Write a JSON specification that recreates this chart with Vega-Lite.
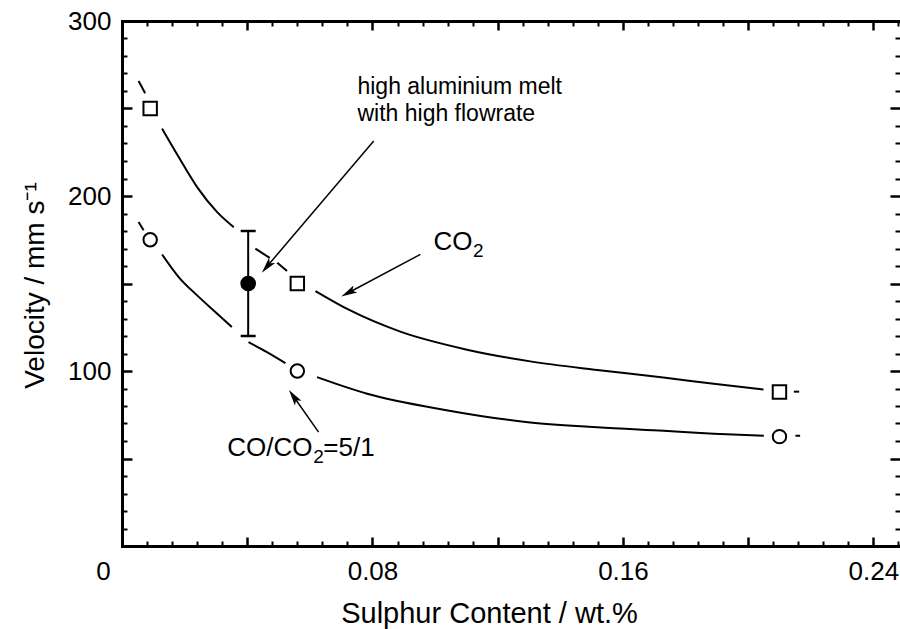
{
"$schema":"https://vega.github.io/schema/vega-lite/v6.json",
"width":778,"height":525,
"autosize":{"type":"none"},
"padding":{"left":122,"top":21,"right":0,"bottom":83},
"background":"white",
"config":{"view":{"stroke":null},"axis":{"grid":false,"domainColor":"black","tickColor":"black","labelColor":"black","titleColor":"black","labelFont":"Liberation Sans","titleFont":"Liberation Sans","titleFontWeight":"normal","labelFlush":false,"labelOverlap":false}},
"datasets":{
"ax":[{"x":0,"y":0}],
"curves":[
{"x":0.0053,"y":265.7,"seg":"U1"},{"x":0.0074,"y":258.7,"seg":"U1"},
{"x":0.0128,"y":238.5,"seg":"U2"},{"x":0.0181,"y":222.3,"seg":"U2"},{"x":0.024,"y":205.1,"seg":"U2"},{"x":0.0304,"y":190.8,"seg":"U2"},{"x":0.0357,"y":182.2,"seg":"U2"},
{"x":0.0426,"y":169.9,"seg":"U3a"},{"x":0.0472,"y":164.6,"seg":"U3a"},
{"x":0.0496,"y":161.8,"seg":"U3b"},{"x":0.0527,"y":157.1,"seg":"U3b"},
{"x":0.0618,"y":145.7,"seg":"U4"},{"x":0.0729,"y":134.6,"seg":"U4"},{"x":0.0889,"y":122.5,"seg":"U4"},{"x":0.1102,"y":112.2,"seg":"U4"},{"x":0.1304,"y":105.5,"seg":"U4"},{"x":0.1518,"y":100.6,"seg":"U4"},{"x":0.1729,"y":96.3,"seg":"U4"},{"x":0.189,"y":92.7,"seg":"U4"},{"x":0.2049,"y":89.4,"seg":"U4"},
{"x":0.2146,"y":88.2,"seg":"U5"},{"x":0.2163,"y":88.2,"seg":"U5"},
{"x":0.0053,"y":185.1,"seg":"L1"},{"x":0.0069,"y":180.4,"seg":"L1"},
{"x":0.0128,"y":166.6,"seg":"L2"},{"x":0.0181,"y":153.7,"seg":"L2"},{"x":0.024,"y":143.2,"seg":"L2"},{"x":0.0298,"y":133.7,"seg":"L2"},{"x":0.0351,"y":125.1,"seg":"L2"},
{"x":0.0404,"y":116.5,"seg":"L3"},{"x":0.0463,"y":110.8,"seg":"L3"},{"x":0.0522,"y":104.5,"seg":"L3"},
{"x":0.0623,"y":96.5,"seg":"L4"},{"x":0.0783,"y":87.0,"seg":"L4"},{"x":0.1027,"y":77.9,"seg":"L4"},{"x":0.1304,"y":70.6,"seg":"L4"},{"x":0.1518,"y":67.8,"seg":"L4"},{"x":0.173,"y":65.8,"seg":"L4"},{"x":0.189,"y":64.2,"seg":"L4"},{"x":0.205,"y":63.0,"seg":"L4"},
{"x":0.2151,"y":63.0,"seg":"L5"},{"x":0.2166,"y":63.0,"seg":"L5"}
],
"pts":[
{"x":0.009,"y":250,"series":"CO2"},{"x":0.056,"y":150,"series":"CO2"},{"x":0.21,"y":88,"series":"CO2"},
{"x":0.009,"y":175,"series":"CO/CO2=5/1"},{"x":0.056,"y":100,"series":"CO/CO2=5/1"},{"x":0.21,"y":62.5,"series":"CO/CO2=5/1"}
],
"hal":[{"x":0.0403,"y":150,"lo":120,"hi":180}],
"arrows":[
{"x":0.0804,"y":231.4,"x2":0.0463,"y2":159.7,"dir":220},
{"x":0.0953,"y":166.6,"x2":0.0723,"y2":144.7,"dir":242},
{"x":0.0628,"y":65.1,"x2":0.0548,"y2":85.4,"dir":325}
],
"note1":[{"x":0.0752,"y":258.1,"text":"high aluminium melt"},{"x":0.0752,"y":242.7,"text":"with high flowrate"}],
"note2":[{"x":0.0995,"y":168.9,"text":"CO"},{"x":0.0336,"y":51.2,"text":"CO/CO"},{"x":0.0643,"y":51.2,"text":"=5/1"}],
"subs":[{"x":0.1121,"y":165.0,"text":"2"},{"x":0.0611,"y":47.3,"text":"2"}]
},
"layer":[
{"data":{"name":"ax"},"mark":{"type":"point","opacity":0},
"encoding":{
"x":{"field":"x","type":"quantitative","scale":{"domain":[0,0.2485],"nice":false,"zero":false},
"axis":{"orient":"bottom","values":[0.08,0.16,0.24],"format":".2~f","ticks":false,"tickSize":0,"domain":true,"domainWidth":3,"domainCap":"square","labelFontSize":26,"labelPadding":12,"title":"Sulphur Content / wt.%","titleFontSize":29,"titleX":367,"titleY":76,"titleAlign":"center","titleBaseline":"alphabetic"}},
"y":{"field":"y","type":"quantitative","scale":{"domain":[0,300],"nice":false,"zero":false},
"axis":{"orient":"left","values":[100,200,300],"ticks":false,"tickSize":0,"domain":true,"domainWidth":3,"domainCap":"square","labelFontSize":26,"labelPadding":11,"title":"Velocity / mm s⁻¹","titleFontSize":28,"titleAngle":270,"titleX":-87,"titleY":264,"titleAlign":"center","titleBaseline":"middle"}}
}},
{"data":{"name":"ax"},"mark":{"type":"point","opacity":0},
"encoding":{
"x":{"field":"x","type":"quantitative","scale":{"domain":[0,0.2485],"nice":false,"zero":false},
"axis":{"orient":"bottom","values":[0],"format":".2~f","ticks":false,"tickSize":0,"domain":false,"labelFontSize":26,"labelPadding":12,"labelOffset":-19,"title":null}}
}},
{"data":{"name":"ax"},"mark":{"type":"point","opacity":0},
"encoding":{
"x":{"field":"x","type":"quantitative","scale":{"domain":[0,0.2485],"nice":false,"zero":false},
"axis":{"orient":"bottom","values":[0.04,0.08,0.12,0.16,0.2,0.24],"labels":false,"domain":false,"tickSize":-9,"tickWidth":2.5,"title":null}},
"y":{"field":"y","type":"quantitative","scale":{"domain":[0,300],"nice":false,"zero":false},
"axis":{"orient":"left","values":[50,100,150,200,250],"labels":false,"domain":false,"tickSize":-10,"tickWidth":2.5,"title":null}}
}},
{"data":{"name":"ax"},"mark":{"type":"point","opacity":0},
"encoding":{
"x":{"field":"x","type":"quantitative","scale":{"domain":[0,0.2485],"nice":false,"zero":false},
"axis":{"orient":"bottom","values":[0.008,0.016,0.024,0.032,0.048,0.056,0.064,0.072,0.088,0.096,0.104,0.112,0.128,0.136,0.144,0.152,0.168,0.176,0.184,0.192,0.208,0.216,0.224,0.232,0.248],"labels":false,"domain":false,"tickSize":-5,"tickWidth":2,"title":null}},
"y":{"field":"y","type":"quantitative","scale":{"domain":[0,300],"nice":false,"zero":false},
"axis":{"orient":"left","values":[10,20,30,40,60,70,80,90,110,120,130,140,160,170,180,190,210,220,230,240,260,270,280,290],"labels":false,"domain":false,"tickSize":-5,"tickWidth":2,"title":null}}
}},
{"data":{"name":"ax"},"mark":{"type":"point","opacity":0},
"encoding":{
"x":{"field":"x","type":"quantitative","scale":{"domain":[0,0.2485],"nice":false,"zero":false},
"axis":{"orient":"top","values":[0.04,0.08,0.12,0.16,0.2,0.24],"labels":false,"domain":true,"domainWidth":3,"domainCap":"square","tickSize":-9,"tickWidth":2.5,"title":null}},
"y":{"field":"y","type":"quantitative","scale":{"domain":[0,300],"nice":false,"zero":false},
"axis":{"orient":"right","values":[50,100,150,200,250],"labels":false,"domain":false,"tickSize":-10,"tickWidth":2.5,"title":null}}
}},
{"data":{"name":"ax"},"mark":{"type":"point","opacity":0},
"encoding":{
"x":{"field":"x","type":"quantitative","scale":{"domain":[0,0.2485],"nice":false,"zero":false},
"axis":{"orient":"top","values":[0.008,0.016,0.024,0.032,0.048,0.056,0.064,0.072,0.088,0.096,0.104,0.112,0.128,0.136,0.144,0.152,0.168,0.176,0.184,0.192,0.208,0.216,0.224,0.232,0.248],"labels":false,"domain":false,"tickSize":-5,"tickWidth":2,"title":null}},
"y":{"field":"y","type":"quantitative","scale":{"domain":[0,300],"nice":false,"zero":false},
"axis":{"orient":"right","values":[10,20,30,40,60,70,80,90,110,120,130,140,160,170,180,190,210,220,230,240,260,270,280,290],"labels":false,"domain":false,"tickSize":-5,"tickWidth":2,"title":null}}
}},
{"data":{"name":"curves"},"mark":{"type":"line","interpolate":"monotone","color":"black","strokeWidth":2},
"encoding":{
"x":{"field":"x","type":"quantitative","scale":{"domain":[0,0.2485],"nice":false,"zero":false},"axis":null},
"y":{"field":"y","type":"quantitative","scale":{"domain":[0,300],"nice":false,"zero":false},"axis":null},
"detail":{"field":"seg","type":"nominal"}
}},
{"data":{"name":"hal"},"mark":{"type":"rule","color":"black","strokeWidth":2},
"encoding":{
"x":{"field":"x","type":"quantitative","scale":{"domain":[0,0.2485],"nice":false,"zero":false},"axis":null},
"y":{"field":"lo","type":"quantitative","scale":{"domain":[0,300],"nice":false,"zero":false},"axis":null},
"y2":{"field":"hi"}
}},
{"data":{"name":"hal"},"mark":{"type":"tick","orient":"horizontal","size":15,"thickness":2.5,"color":"black","opacity":1},
"encoding":{
"x":{"field":"x","type":"quantitative","scale":{"domain":[0,0.2485],"nice":false,"zero":false},"axis":null},
"y":{"field":"lo","type":"quantitative","scale":{"domain":[0,300],"nice":false,"zero":false},"axis":null}
}},
{"data":{"name":"hal"},"mark":{"type":"tick","orient":"horizontal","size":15,"thickness":2.5,"color":"black","opacity":1},
"encoding":{
"x":{"field":"x","type":"quantitative","scale":{"domain":[0,0.2485],"nice":false,"zero":false},"axis":null},
"y":{"field":"hi","type":"quantitative","scale":{"domain":[0,300],"nice":false,"zero":false},"axis":null}
}},
{"data":{"name":"hal"},"mark":{"type":"circle","size":246,"color":"black","opacity":1},
"encoding":{
"x":{"field":"x","type":"quantitative","scale":{"domain":[0,0.2485],"nice":false,"zero":false},"axis":null},
"y":{"field":"y","type":"quantitative","scale":{"domain":[0,300],"nice":false,"zero":false},"axis":null}
}},
{"data":{"name":"pts"},"mark":{"type":"point","size":180,"filled":true,"fill":"white","stroke":"black","strokeWidth":2,"opacity":1},
"encoding":{
"x":{"field":"x","type":"quantitative","scale":{"domain":[0,0.2485],"nice":false,"zero":false},"axis":null},
"y":{"field":"y","type":"quantitative","scale":{"domain":[0,300],"nice":false,"zero":false},"axis":null},
"shape":{"field":"series","type":"nominal","scale":{"domain":["CO2","CO/CO2=5/1"],"range":["square","circle"]},"legend":null}
}},
{"data":{"name":"arrows"},"mark":{"type":"rule","color":"black","strokeWidth":1.5},
"encoding":{
"x":{"field":"x","type":"quantitative","scale":{"domain":[0,0.2485],"nice":false,"zero":false},"axis":null},
"y":{"field":"y","type":"quantitative","scale":{"domain":[0,300],"nice":false,"zero":false},"axis":null},
"x2":{"field":"x2"},
"y2":{"field":"y2"}
}},
{"data":{"name":"arrows"},"mark":{"type":"point","shape":"M0,-1L0.5,1L0,0.55L-0.5,1Z","size":256,"filled":true,"color":"black","opacity":1},
"encoding":{
"x":{"field":"x2","type":"quantitative","scale":{"domain":[0,0.2485],"nice":false,"zero":false},"axis":null},
"y":{"field":"y2","type":"quantitative","scale":{"domain":[0,300],"nice":false,"zero":false},"axis":null},
"angle":{"field":"dir","type":"quantitative","scale":null}
}},
{"data":{"name":"note1"},"mark":{"type":"text","align":"left","baseline":"alphabetic","fontSize":23,"font":"Liberation Sans","color":"black"},
"encoding":{
"x":{"field":"x","type":"quantitative","scale":{"domain":[0,0.2485],"nice":false,"zero":false},"axis":null},
"y":{"field":"y","type":"quantitative","scale":{"domain":[0,300],"nice":false,"zero":false},"axis":null},
"text":{"field":"text"}
}},
{"data":{"name":"note2"},"mark":{"type":"text","align":"left","baseline":"alphabetic","fontSize":26,"font":"Liberation Sans","color":"black"},
"encoding":{
"x":{"field":"x","type":"quantitative","scale":{"domain":[0,0.2485],"nice":false,"zero":false},"axis":null},
"y":{"field":"y","type":"quantitative","scale":{"domain":[0,300],"nice":false,"zero":false},"axis":null},
"text":{"field":"text"}
}},
{"data":{"name":"subs"},"mark":{"type":"text","align":"left","baseline":"alphabetic","fontSize":19,"font":"Liberation Sans","color":"black"},
"encoding":{
"x":{"field":"x","type":"quantitative","scale":{"domain":[0,0.2485],"nice":false,"zero":false},"axis":null},
"y":{"field":"y","type":"quantitative","scale":{"domain":[0,300],"nice":false,"zero":false},"axis":null},
"text":{"field":"text"}
}}
],
"resolve":{"scale":{"x":"shared","y":"shared"},"axis":{"x":"independent","y":"independent"}}
}
